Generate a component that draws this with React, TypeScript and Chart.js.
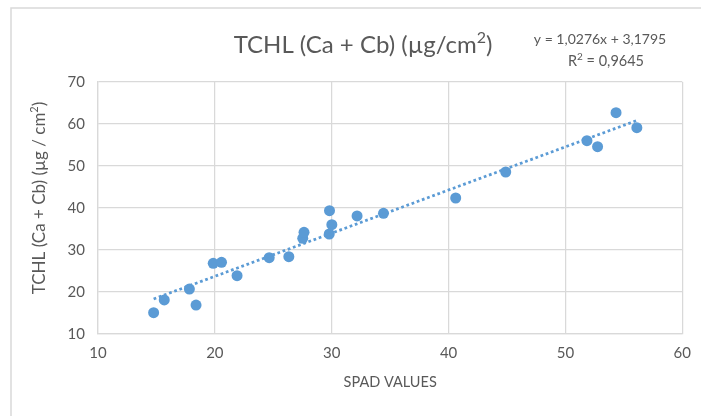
import React, { useEffect, useRef } from "react";
import { Chart, registerables } from "chart.js";

Chart.register(...registerables);

// ---- data ----
const spadValues = [
  14.76, 15.67, 17.82, 18.39, 19.86, 20.57, 21.9, 24.65, 26.33, 27.52, 27.63,
  29.81, 30.01, 29.79, 32.17, 34.43, 40.61, 44.89, 51.84, 52.75, 54.33, 56.11,
];
const tchlValues = [
  15.07, 18.1, 20.71, 16.9, 26.83, 27.07, 23.88, 28.17, 28.4, 32.79, 34.21,
  39.36, 36.02, 33.81, 38.1, 38.74, 42.38, 48.57, 56.02, 54.6, 62.69, 59.12,
];
const xTickValues = [10, 20, 30, 40, 50, 60];
const yTickValues = [10, 20, 30, 40, 50, 60, 70];
const trendSlope = 1.0276;
const trendIntercept = 3.1795;

const chartTitle = "TCHL (Ca + Cb) (µg/cm²)";
const xAxisTitle = "SPAD VALUES";
const yAxisTitle = "TCHL (Ca + Cb) (µg / cm²)";
const equationLabel = "y = 1,0276x + 3,1795";
const r2Label = "R² = 0,9645";

const FONT = "Lato, 'Open Sans', sans-serif";
const TEXT = "#595959";
const GRID = "#d9d9d9";
const BLUE = "#5B9BD5";

// draws text centred at (cx, cy); "²" is drawn as a raised, smaller "2"
function drawRich(ctx: CanvasRenderingContext2D, text: string, cx: number, cy: number, size: number) {
  const parts: { t: string; sup: boolean }[] = [];
  text.split("²").forEach((seg, i, arr) => {
    if (seg) parts.push({ t: seg, sup: false });
    if (i < arr.length - 1) parts.push({ t: "2", sup: true });
  });
  const baseFont = `${size}px ${FONT}`;
  const supFont = `${Math.round(size * 0.66)}px ${FONT}`;
  let total = 0;
  const widths = parts.map((p) => {
    ctx.font = p.sup ? supFont : baseFont;
    const w = ctx.measureText(p.t).width;
    total += w;
    return w;
  });
  ctx.textAlign = "left";
  ctx.textBaseline = "middle";
  let x = cx - total / 2;
  parts.forEach((p, i) => {
    ctx.font = p.sup ? supFont : baseFont;
    ctx.fillText(p.t, x, p.sup ? cy - size * 0.3 : cy);
    x += widths[i];
  });
}

export default function App() {
  const ref = useRef<HTMLCanvasElement | null>(null);

  useEffect(() => {
    if (!ref.current) return;
    const xMin = Math.min(...spadValues);
    const xMax = Math.max(...spadValues);
    const trend = [
      { x: xMin, y: trendSlope * xMin + trendIntercept },
      { x: xMax, y: trendSlope * xMax + trendIntercept },
    ];
    const points = spadValues.map((x, i) => ({ x, y: tchlValues[i] }));

    const overlay = {
      id: "overlay",
      beforeDraw(chart: any) {
        const ctx = chart.ctx;
        ctx.save();
        ctx.strokeStyle = GRID;
        ctx.lineWidth = 1.5;
        ctx.beginPath();
        ctx.moveTo(11, 420);
        ctx.lineTo(11, 8);
        ctx.lineTo(710, 8);
        ctx.stroke();
        ctx.restore();
      },
      afterDraw(chart: any) {
        const ctx = chart.ctx;
        ctx.save();
        ctx.fillStyle = TEXT;
        drawRich(ctx, chartTitle, 363, 45, 24);
        drawRich(ctx, equationLabel, 600, 39, 14);
        drawRich(ctx, r2Label, 606, 61, 14.5);
        ctx.translate(40, 198);
        ctx.rotate(-Math.PI / 2);
        drawRich(ctx, yAxisTitle, 0, 0, 17);
        ctx.restore();
      },
    };

    const chart = new Chart(ref.current, {
      type: "scatter",
      data: {
        datasets: [
          {
            type: "line",
            label: "Trend",
            data: trend,
            borderColor: BLUE,
            borderWidth: 2.75,
            borderDash: [2.75, 2.75],
            pointRadius: 0,
            fill: false,
            order: 0,
          } as any,
          {
            label: "TCHL",
            data: points,
            backgroundColor: BLUE,
            borderColor: BLUE,
            pointRadius: 5.5,
            pointBorderWidth: 0,
            order: 1,
          },
        ],
      },
      options: {
        responsive: false,
        animation: false,
        layout: { padding: { top: 82, right: 15, bottom: 0, left: 0 } },
        plugins: {
          legend: { display: false },
          tooltip: { enabled: false },
          title: { display: false },
        },
        scales: {
          x: {
            type: "linear",
            min: 10,
            max: 60,
            afterBuildTicks: (s: any) => {
              s.ticks = xTickValues.map((v) => ({ value: v }));
            },
            afterFit: (s: any) => {
              s.height = 82;
            },
            ticks: { color: TEXT, font: { family: FONT, size: 15 }, padding: 10 },
            grid: { color: GRID, lineWidth: 1.25, drawTicks: false },
            border: { color: GRID, width: 1.25 },
            title: {
              display: true,
              text: xAxisTitle,
              color: TEXT,
              font: { family: FONT, size: 14.5 },
              padding: { top: 0, bottom: 25 },
            },
          },
          y: {
            type: "linear",
            min: 10,
            max: 70,
            afterBuildTicks: (s: any) => {
              s.ticks = yTickValues.map((v) => ({ value: v }));
            },
            afterFit: (s: any) => {
              s.width = 98;
            },
            ticks: { color: TEXT, font: { family: FONT, size: 15 }, padding: 13 },
            grid: { color: GRID, lineWidth: 1.25, drawTicks: false },
            border: { color: GRID, width: 1.25 },
          },
        },
      },
      plugins: [overlay],
    });
    return () => chart.destroy();
  }, []);

  return (
    <div style={{ position: "fixed", left: 0, top: 0, width: 701, height: 416, background: "#fff" }}>
      <canvas ref={ref} width={701} height={416} style={{ display: "block" }} />
    </div>
  );
}
